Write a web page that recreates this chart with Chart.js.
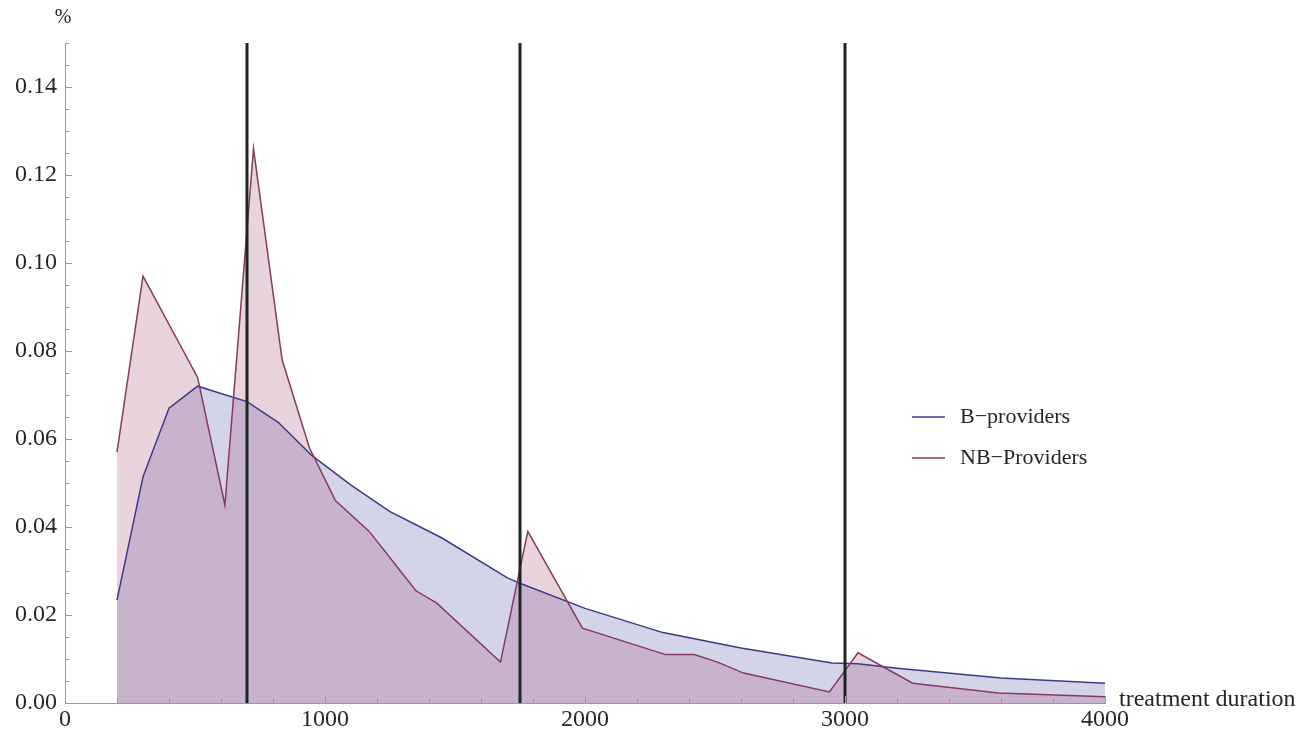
<!DOCTYPE html>
<html>
<head>
<meta charset="utf-8">
<script src="https://cdn.jsdelivr.net/npm/chart.js@4"></script>
<style>
  html, body { margin: 0; padding: 0; background: #fff; }
  #wrap { width: 1305px; height: 731px; }
</style>
</head>
<body>
<div id="wrap"><canvas id="durationChart"></canvas></div>
<script>
// treatment duration (x) and share (y) for each provider group
const bX = [200, 300, 400, 510, 700, 820, 950, 1100, 1250, 1450, 1700, 1750, 2000, 2300, 2600, 2950, 3050, 3200, 3600, 4000];
const bY = [0.0234, 0.0514, 0.067, 0.072, 0.0685, 0.0638, 0.0562, 0.0495, 0.0435, 0.0375, 0.0285, 0.0272, 0.0215, 0.016, 0.0125, 0.0091, 0.0089, 0.0079, 0.0057, 0.0045];

const nbX = [200, 300, 510, 615, 725, 835, 940, 1040, 1170, 1290, 1350, 1430, 1675, 1780, 1990, 2310, 2420, 2510, 2610, 2940, 3050, 3260, 3590, 4000];
const nbY = [0.057, 0.097, 0.074, 0.045, 0.126, 0.078, 0.058, 0.046, 0.039, 0.030, 0.0255, 0.0227, 0.0093, 0.039, 0.017, 0.011, 0.011, 0.0093, 0.0068, 0.0025, 0.0114, 0.0045, 0.0023, 0.0014];

const cutoffs = [700, 1750, 3000];
const xTicks = [0, 1000, 2000, 3000, 4000];
const seriesNames = ['B\u2212providers', 'NB\u2212Providers'];

const blueLine = 'rgb(58, 58, 135)';
const redLine = 'rgb(135, 58, 96)';
const serif = "'Liberation Serif', 'DejaVu Serif', serif";
const textColor = '#262626';

const pts = (xs, ys) => xs.map((x, i) => ({ x: x, y: ys[i] }));

const cutoffSets = cutoffs.map(c => ({
    data: [{ x: c, y: 0 }, { x: c, y: 0.15 }],
    borderColor: '#222',
    borderWidth: 3,
    pointRadius: 0,
    fill: false,
    order: 0
}));

// inward ticks, axis words and legend, drawn on top
const decor = {
    id: 'decor',
    afterDraw(chart) {
        const ctx = chart.ctx;
        const xs = chart.scales.x, ys = chart.scales.y;
        const left = chart.chartArea.left, bottom = chart.chartArea.bottom;
        ctx.save();
        ctx.strokeStyle = '#999';
        ctx.lineWidth = 1;
        for (let v = 0; v <= 0.1501; v += 0.005) {
            const y = Math.round(ys.getPixelForValue(v)) + 0.5;
            const major = Math.abs(v / 0.02 - Math.round(v / 0.02)) < 1e-6;
            ctx.beginPath();
            ctx.moveTo(left, y);
            ctx.lineTo(left + (major ? 7 : 4), y);
            ctx.stroke();
        }
        for (let v = 0; v <= 4000; v += 200) {
            const x = Math.round(xs.getPixelForValue(v)) + 0.5;
            const major = v % 1000 === 0;
            ctx.beginPath();
            ctx.moveTo(x, bottom);
            ctx.lineTo(x, bottom - (major ? 7 : 4));
            ctx.stroke();
        }

        ctx.fillStyle = textColor;
        ctx.font = '20px ' + serif;
        ctx.textAlign = 'center';
        ctx.textBaseline = 'middle';
        ctx.fillText('%', left - 2, 18);

        ctx.font = '24px ' + serif;
        ctx.textAlign = 'left';
        ctx.textBaseline = 'alphabetic';
        ctx.fillText('treatment duration', xs.right + 14, bottom + 3);

        // legend
        const legendRows = [[seriesNames[0], blueLine, 417], [seriesNames[1], redLine, 458]];
        ctx.font = '22px ' + serif;
        ctx.textBaseline = 'middle';
        legendRows.forEach(([label, color, y]) => {
            ctx.strokeStyle = color;
            ctx.lineWidth = 1.5;
            ctx.beginPath();
            ctx.moveTo(912, y);
            ctx.lineTo(945, y);
            ctx.stroke();
            ctx.fillStyle = textColor;
            ctx.fillText(label, 960, y);
        });
        ctx.restore();
    }
};

new Chart(document.getElementById('durationChart'), {
    type: 'line',
    data: {
        datasets: [
            ...cutoffSets,
            {
                label: seriesNames[0],
                data: pts(bX, bY),
                borderColor: blueLine,
                backgroundColor: 'rgba(61, 61, 153, 0.22)',
                borderWidth: 1.5,
                pointRadius: 0,
                tension: 0,
                fill: 'origin',
                order: 2
            },
            {
                label: seriesNames[1],
                data: pts(nbX, nbY),
                borderColor: redLine,
                backgroundColor: 'rgba(153, 61, 102, 0.22)',
                borderWidth: 1.5,
                pointRadius: 0,
                tension: 0,
                fill: 'origin',
                order: 1
            }
        ]
    },
    options: {
        responsive: true,
        maintainAspectRatio: false,
        animation: false,
        layout: { padding: { top: 43, right: 200, left: 0, bottom: 0 } },
        plugins: {
            legend: { display: false },
            tooltip: { enabled: false },
            filler: { drawTime: 'beforeDatasetsDraw' }
        },
        scales: {
            x: {
                type: 'linear',
                min: 0,
                max: 4000,
                afterFit: s => { s.height = 28; },
                afterBuildTicks: s => { s.ticks = xTicks.map(v => ({ value: v })); },
                grid: { drawOnChartArea: false, drawTicks: false },
                border: { color: '#999', width: 1 },
                ticks: {
                    padding: 2,
                    maxRotation: 0,
                    color: textColor,
                    font: { family: serif, size: 24 },
                    callback: v => String(v)
                }
            },
            y: {
                min: 0,
                max: 0.15,
                afterFit: s => { s.width = 65; },
                grid: { drawOnChartArea: false, drawTicks: false },
                border: { color: '#999', width: 1 },
                ticks: {
                    stepSize: 0.02,
                    includeBounds: false,
                    padding: 8,
                    color: textColor,
                    font: { family: serif, size: 24 },
                    callback: v => v.toFixed(2)
                }
            }
        }
    },
    plugins: [decor]
});
</script>
</body>
</html>
